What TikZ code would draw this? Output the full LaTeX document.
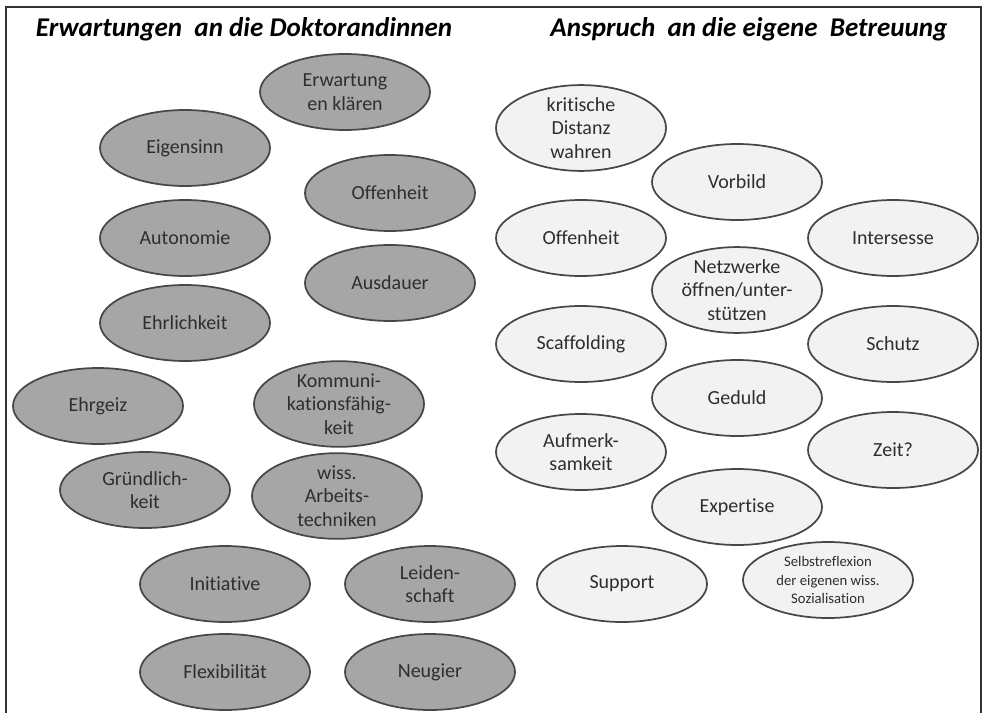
\documentclass[tikz,border=0pt]{standalone}
\usepackage{fontspec}
\setmainfont{Carlito}[Ligatures=NoCommon]
\usetikzlibrary{shapes.geometric}
\definecolor{dkfill}{HTML}{A6A6A6}
\definecolor{ltfill}{HTML}{F2F2F2}
\definecolor{rim}{HTML}{474747}
\tikzset{
  blob/.style={ellipse, draw=rim, line width=1.3pt, inner sep=0pt,
    minimum width=127.5pt, minimum height=57pt, align=center,
    font=\fontsize{15}{17.5}\selectfont, text=black!82},
  dk/.style={blob, fill=dkfill},
  lt/.style={blob, fill=ltfill},
  heading/.style={font=\fontsize{20.3}{24}\bfseries\itshape\selectfont, inner sep=0pt}
}
\begin{document}
\begin{tikzpicture}[x=0.75pt, y=-0.75pt]
\useasboundingbox (0,0) rectangle (987,713);
% outer frame, open at the bottom
\draw[line width=1.1pt, black!80] (6,713) -- (6,7) -- (981,7) -- (981,713);

% headings
\node[heading] (hl) at (244,29) {Erwartungen\ \ an die Doktorandinnen};
\node[heading] (hr) at (749,29) {Anspruch\ \ an die eigene\ \ Betreuung};

% expectations towards the doctoral candidates
\node[dk] (l1)  at (345,92)  {Erwartung\\en klären};
\node[dk] (l2)  at (185,148) {Eigensinn};
\node[dk] (l3)  at (390,193) {Offenheit};
\node[dk] (l4)  at (185,238) {Autonomie};
\node[dk] (l5)  at (390,283) {Ausdauer};
\node[dk] (l6)  at (185,323) {Ehrlichkeit};
\node[dk] (l7)  at (98,406)  {Ehrgeiz};
\node[dk] (l8)  at (339,404) {Kommuni-\\kationsfähig-\\keit};
\node[dk] (l9)  at (145,490) {Gründlich-\\keit};
\node[dk] (l10) at (337,496) {wiss.\\Arbeits-\\techniken};
\node[dk] (l11) at (225,584) {Initiative};
\node[dk] (l12) at (430,584) {Leiden-\\schaft};
\node[dk] (l13) at (225,672) {Flexibilität};
\node[dk] (l14) at (430,672) {Neugier};

% demands on one's own supervision
\node[lt] (r1)  at (581,128) {kritische\\Distanz\\wahren};
\node[lt] (r2)  at (737,182) {Vorbild};
\node[lt] (r3)  at (581,238) {Offenheit};
\node[lt] (r4)  at (893,238) {Intersesse};
\node[lt] (r5)  at (737,290) {Netzwerke\\öffnen/unter-\\stützen};
\node[lt] (r6)  at (581,344) {Scaffolding};
\node[lt] (r7)  at (893,344) {Schutz};
\node[lt] (r8)  at (737,398) {Geduld};
\node[lt] (r9)  at (581,452) {Aufmerk-\\samkeit};
\node[lt] (r10) at (893,450) {Zeit?};
\node[lt] (r11) at (737,507) {Expertise};
\node[lt] (r12) at (622,584) {Support};
\node[lt, font=\fontsize{11}{14}\selectfont] (r13) at (828,580)
  {Selbstreflexion\\der eigenen wiss.\\Sozialisation};
\end{tikzpicture}
\end{document}
